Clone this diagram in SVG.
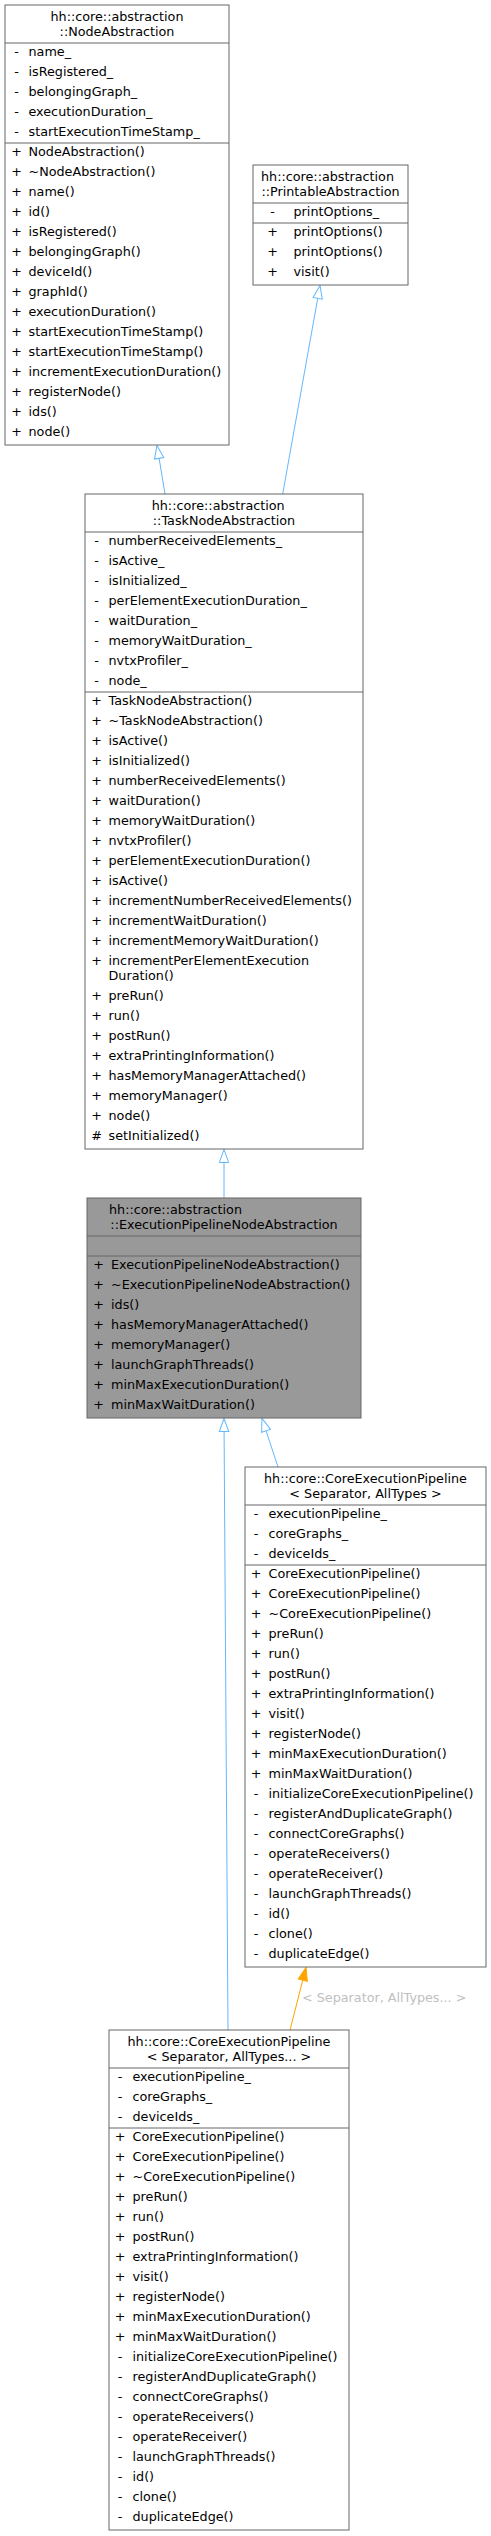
<svg xmlns="http://www.w3.org/2000/svg" width="491" height="2536" viewBox="0 0 491 2536">
<style>
text{font-family:"DejaVu Sans","Liberation Sans",sans-serif;font-size:12.75px;fill:#000}
.m{text-anchor:middle}
.lbl{fill:#c0c0c0}
.box{fill:#fff;stroke:#666;stroke-width:1}
.sel{fill:#999;stroke:#666;stroke-width:1}
.div{stroke:#666;stroke-width:1}
.inh{stroke:#63b8ff;stroke-width:1;fill:none;marker-end:url(#hollow)}
.tpl{stroke:#ffa500;stroke-width:1;fill:none;marker-end:url(#solid)}
</style>
<defs>
<marker id="hollow" markerUnits="userSpaceOnUse" markerWidth="16" markerHeight="12" refX="13" refY="6" orient="auto" overflow="visible">
<path d="M0,1.3 L13,6 L0,10.7 z" fill="#fff" stroke="#63b8ff" stroke-width="1"/>
</marker>
<marker id="solid" markerUnits="userSpaceOnUse" markerWidth="16" markerHeight="12" refX="13" refY="6" orient="auto" overflow="visible">
<path d="M0,1.3 L13,6 L0,10.7 z" fill="#ffa500" stroke="#ffa500" stroke-width="1"/>
</marker>
</defs>

<g id="connectors">
<line class="inh" x1="165" y1="494" x2="157" y2="445.5"/>
<line class="inh" x1="282.7" y1="494" x2="320" y2="285.5"/>
<line class="inh" x1="224" y1="1198" x2="224" y2="1149.5"/>
<line class="inh" x1="278" y1="1467" x2="262" y2="1418.5"/>
<line class="inh" x1="228" y1="2030" x2="224" y2="1418.5"/>
<line class="tpl" x1="290" y1="2030" x2="306" y2="1967.5"/>
<text class="lbl" x="302" y="2002">&lt; Separator, AllTypes... &gt;</text>
</g>

<g id="NodeAbstraction">
<rect class="box" x="5" y="5" width="224" height="440"/>
<line class="div" x1="5" y1="43" x2="229" y2="43"/>
<line class="div" x1="5" y1="143" x2="229" y2="143"/>
<text class="m" x="117" y="20.5">hh::core::abstraction</text>
<text class="m" x="117" y="35.5">::NodeAbstraction</text>
<g class="sym">
<text class="m" x="16.5" y="56">-</text><text x="28.5" y="56">name_</text>
<text class="m" x="16.5" y="76">-</text><text x="28.5" y="76">isRegistered_</text>
<text class="m" x="16.5" y="96">-</text><text x="28.5" y="96">belongingGraph_</text>
<text class="m" x="16.5" y="116">-</text><text x="28.5" y="116">executionDuration_</text>
<text class="m" x="16.5" y="136">-</text><text x="28.5" y="136">startExecutionTimeStamp_</text>
<text class="m" x="16.5" y="156">+</text><text x="28.5" y="156">NodeAbstraction()</text>
<text class="m" x="16.5" y="176">+</text><text x="28.5" y="176">~NodeAbstraction()</text>
<text class="m" x="16.5" y="196">+</text><text x="28.5" y="196">name()</text>
<text class="m" x="16.5" y="216">+</text><text x="28.5" y="216">id()</text>
<text class="m" x="16.5" y="236">+</text><text x="28.5" y="236">isRegistered()</text>
<text class="m" x="16.5" y="256">+</text><text x="28.5" y="256">belongingGraph()</text>
<text class="m" x="16.5" y="276">+</text><text x="28.5" y="276">deviceId()</text>
<text class="m" x="16.5" y="296">+</text><text x="28.5" y="296">graphId()</text>
<text class="m" x="16.5" y="316">+</text><text x="28.5" y="316">executionDuration()</text>
<text class="m" x="16.5" y="336">+</text><text x="28.5" y="336">startExecutionTimeStamp()</text>
<text class="m" x="16.5" y="356">+</text><text x="28.5" y="356">startExecutionTimeStamp()</text>
<text class="m" x="16.5" y="376">+</text><text x="28.5" y="376">incrementExecutionDuration()</text>
<text class="m" x="16.5" y="396">+</text><text x="28.5" y="396">registerNode()</text>
<text class="m" x="16.5" y="416">+</text><text x="28.5" y="416">ids()</text>
<text class="m" x="16.5" y="436">+</text><text x="28.5" y="436">node()</text>
</g>
</g>

<g id="PrintableAbstraction">
<rect class="box" x="253" y="165" width="155" height="120"/>
<line class="div" x1="253" y1="203" x2="408" y2="203"/>
<line class="div" x1="253" y1="223" x2="408" y2="223"/>
<text x="261" y="181">hh::core::abstraction</text>
<text class="m" x="330.5" y="196">::PrintableAbstraction</text>
<text class="m" x="272.5" y="216">-</text><text x="293.5" y="216">printOptions_</text>
<text class="m" x="272.5" y="236">+</text><text x="293.5" y="236">printOptions()</text>
<text class="m" x="272.5" y="256">+</text><text x="293.5" y="256">printOptions()</text>
<text class="m" x="272.5" y="276">+</text><text x="293.5" y="276">visit()</text>
</g>

<g id="TaskNodeAbstraction">
<rect class="box" x="85" y="494" width="278" height="655"/>
<line class="div" x1="85" y1="532" x2="363" y2="532"/>
<line class="div" x1="85" y1="692" x2="363" y2="692"/>
<text x="151.7" y="509.5">hh::core::abstraction</text>
<text class="m" x="224" y="524.5">::TaskNodeAbstraction</text>
<text class="m" x="96.5" y="545">-</text><text x="108.5" y="545">numberReceivedElements_</text>
<text class="m" x="96.5" y="565">-</text><text x="108.5" y="565">isActive_</text>
<text class="m" x="96.5" y="585">-</text><text x="108.5" y="585">isInitialized_</text>
<text class="m" x="96.5" y="605">-</text><text x="108.5" y="605">perElementExecutionDuration_</text>
<text class="m" x="96.5" y="625">-</text><text x="108.5" y="625">waitDuration_</text>
<text class="m" x="96.5" y="645">-</text><text x="108.5" y="645">memoryWaitDuration_</text>
<text class="m" x="96.5" y="665">-</text><text x="108.5" y="665">nvtxProfiler_</text>
<text class="m" x="96.5" y="685">-</text><text x="108.5" y="685">node_</text>
<text class="m" x="96.5" y="705">+</text><text x="108.5" y="705">TaskNodeAbstraction()</text>
<text class="m" x="96.5" y="725">+</text><text x="108.5" y="725">~TaskNodeAbstraction()</text>
<text class="m" x="96.5" y="745">+</text><text x="108.5" y="745">isActive()</text>
<text class="m" x="96.5" y="765">+</text><text x="108.5" y="765">isInitialized()</text>
<text class="m" x="96.5" y="785">+</text><text x="108.5" y="785">numberReceivedElements()</text>
<text class="m" x="96.5" y="805">+</text><text x="108.5" y="805">waitDuration()</text>
<text class="m" x="96.5" y="825">+</text><text x="108.5" y="825">memoryWaitDuration()</text>
<text class="m" x="96.5" y="845">+</text><text x="108.5" y="845">nvtxProfiler()</text>
<text class="m" x="96.5" y="865">+</text><text x="108.5" y="865">perElementExecutionDuration()</text>
<text class="m" x="96.5" y="885">+</text><text x="108.5" y="885">isActive()</text>
<text class="m" x="96.5" y="905">+</text><text x="108.5" y="905">incrementNumberReceivedElements()</text>
<text class="m" x="96.5" y="925">+</text><text x="108.5" y="925">incrementWaitDuration()</text>
<text class="m" x="96.5" y="945">+</text><text x="108.5" y="945">incrementMemoryWaitDuration()</text>
<text class="m" x="96.5" y="965">+</text><text x="108.5" y="965">incrementPerElementExecution</text>
<text x="108.5" y="980">Duration()</text>
<text class="m" x="96.5" y="1000">+</text><text x="108.5" y="1000">preRun()</text>
<text class="m" x="96.5" y="1020">+</text><text x="108.5" y="1020">run()</text>
<text class="m" x="96.5" y="1040">+</text><text x="108.5" y="1040">postRun()</text>
<text class="m" x="96.5" y="1060">+</text><text x="108.5" y="1060">extraPrintingInformation()</text>
<text class="m" x="96.5" y="1080">+</text><text x="108.5" y="1080">hasMemoryManagerAttached()</text>
<text class="m" x="96.5" y="1100">+</text><text x="108.5" y="1100">memoryManager()</text>
<text class="m" x="96.5" y="1120">+</text><text x="108.5" y="1120">node()</text>
<text class="m" x="96.5" y="1140">#</text><text x="108.5" y="1140">setInitialized()</text>
</g>

<g id="ExecutionPipelineNodeAbstraction">
<rect class="sel" x="87" y="1198" width="274" height="220"/>
<line class="div" x1="87" y1="1236" x2="361" y2="1236"/>
<line class="div" x1="87" y1="1256" x2="361" y2="1256"/>
<text x="109" y="1213.5">hh::core::abstraction</text>
<text class="m" x="224" y="1228.5">::ExecutionPipelineNodeAbstraction</text>
<text class="m" x="98.5" y="1269">+</text><text x="111" y="1269">ExecutionPipelineNodeAbstraction()</text>
<text class="m" x="98.5" y="1289">+</text><text x="111" y="1289">~ExecutionPipelineNodeAbstraction()</text>
<text class="m" x="98.5" y="1309">+</text><text x="111" y="1309">ids()</text>
<text class="m" x="98.5" y="1329">+</text><text x="111" y="1329">hasMemoryManagerAttached()</text>
<text class="m" x="98.5" y="1349">+</text><text x="111" y="1349">memoryManager()</text>
<text class="m" x="98.5" y="1369">+</text><text x="111" y="1369">launchGraphThreads()</text>
<text class="m" x="98.5" y="1389">+</text><text x="111" y="1389">minMaxExecutionDuration()</text>
<text class="m" x="98.5" y="1409">+</text><text x="111" y="1409">minMaxWaitDuration()</text>
</g>

<g id="CoreExecutionPipeline_SepAllTypes">
<rect class="box" x="245" y="1467" width="241" height="500"/>
<line class="div" x1="245" y1="1505" x2="486" y2="1505"/>
<line class="div" x1="245" y1="1565" x2="486" y2="1565"/>
<text class="m" x="365.5" y="1482.5">hh::core::CoreExecutionPipeline</text>
<text class="m" x="365.5" y="1497.5">&lt; Separator, AllTypes &gt;</text>
<text class="m" x="256" y="1518">-</text><text x="268.5" y="1518">executionPipeline_</text>
<text class="m" x="256" y="1538">-</text><text x="268.5" y="1538">coreGraphs_</text>
<text class="m" x="256" y="1558">-</text><text x="268.5" y="1558">deviceIds_</text>
<text class="m" x="256" y="1578">+</text><text x="268.5" y="1578">CoreExecutionPipeline()</text>
<text class="m" x="256" y="1598">+</text><text x="268.5" y="1598">CoreExecutionPipeline()</text>
<text class="m" x="256" y="1618">+</text><text x="268.5" y="1618">~CoreExecutionPipeline()</text>
<text class="m" x="256" y="1638">+</text><text x="268.5" y="1638">preRun()</text>
<text class="m" x="256" y="1658">+</text><text x="268.5" y="1658">run()</text>
<text class="m" x="256" y="1678">+</text><text x="268.5" y="1678">postRun()</text>
<text class="m" x="256" y="1698">+</text><text x="268.5" y="1698">extraPrintingInformation()</text>
<text class="m" x="256" y="1718">+</text><text x="268.5" y="1718">visit()</text>
<text class="m" x="256" y="1738">+</text><text x="268.5" y="1738">registerNode()</text>
<text class="m" x="256" y="1758">+</text><text x="268.5" y="1758">minMaxExecutionDuration()</text>
<text class="m" x="256" y="1778">+</text><text x="268.5" y="1778">minMaxWaitDuration()</text>
<text class="m" x="256" y="1798">-</text><text x="268.5" y="1798">initializeCoreExecutionPipeline()</text>
<text class="m" x="256" y="1818">-</text><text x="268.5" y="1818">registerAndDuplicateGraph()</text>
<text class="m" x="256" y="1838">-</text><text x="268.5" y="1838">connectCoreGraphs()</text>
<text class="m" x="256" y="1858">-</text><text x="268.5" y="1858">operateReceivers()</text>
<text class="m" x="256" y="1878">-</text><text x="268.5" y="1878">operateReceiver()</text>
<text class="m" x="256" y="1898">-</text><text x="268.5" y="1898">launchGraphThreads()</text>
<text class="m" x="256" y="1918">-</text><text x="268.5" y="1918">id()</text>
<text class="m" x="256" y="1938">-</text><text x="268.5" y="1938">clone()</text>
<text class="m" x="256" y="1958">-</text><text x="268.5" y="1958">duplicateEdge()</text>
</g>

<g id="CoreExecutionPipeline_SepAllTypesPack">
<rect class="box" x="109" y="2030" width="240" height="500"/>
<line class="div" x1="109" y1="2068" x2="349" y2="2068"/>
<line class="div" x1="109" y1="2128" x2="349" y2="2128"/>
<text class="m" x="229" y="2045.5">hh::core::CoreExecutionPipeline</text>
<text class="m" x="229" y="2060.5">&lt; Separator, AllTypes... &gt;</text>
<text class="m" x="120" y="2081">-</text><text x="132.5" y="2081">executionPipeline_</text>
<text class="m" x="120" y="2101">-</text><text x="132.5" y="2101">coreGraphs_</text>
<text class="m" x="120" y="2121">-</text><text x="132.5" y="2121">deviceIds_</text>
<text class="m" x="120" y="2141">+</text><text x="132.5" y="2141">CoreExecutionPipeline()</text>
<text class="m" x="120" y="2161">+</text><text x="132.5" y="2161">CoreExecutionPipeline()</text>
<text class="m" x="120" y="2181">+</text><text x="132.5" y="2181">~CoreExecutionPipeline()</text>
<text class="m" x="120" y="2201">+</text><text x="132.5" y="2201">preRun()</text>
<text class="m" x="120" y="2221">+</text><text x="132.5" y="2221">run()</text>
<text class="m" x="120" y="2241">+</text><text x="132.5" y="2241">postRun()</text>
<text class="m" x="120" y="2261">+</text><text x="132.5" y="2261">extraPrintingInformation()</text>
<text class="m" x="120" y="2281">+</text><text x="132.5" y="2281">visit()</text>
<text class="m" x="120" y="2301">+</text><text x="132.5" y="2301">registerNode()</text>
<text class="m" x="120" y="2321">+</text><text x="132.5" y="2321">minMaxExecutionDuration()</text>
<text class="m" x="120" y="2341">+</text><text x="132.5" y="2341">minMaxWaitDuration()</text>
<text class="m" x="120" y="2361">-</text><text x="132.5" y="2361">initializeCoreExecutionPipeline()</text>
<text class="m" x="120" y="2381">-</text><text x="132.5" y="2381">registerAndDuplicateGraph()</text>
<text class="m" x="120" y="2401">-</text><text x="132.5" y="2401">connectCoreGraphs()</text>
<text class="m" x="120" y="2421">-</text><text x="132.5" y="2421">operateReceivers()</text>
<text class="m" x="120" y="2441">-</text><text x="132.5" y="2441">operateReceiver()</text>
<text class="m" x="120" y="2461">-</text><text x="132.5" y="2461">launchGraphThreads()</text>
<text class="m" x="120" y="2481">-</text><text x="132.5" y="2481">id()</text>
<text class="m" x="120" y="2501">-</text><text x="132.5" y="2501">clone()</text>
<text class="m" x="120" y="2521">-</text><text x="132.5" y="2521">duplicateEdge()</text>
</g>
</svg>
